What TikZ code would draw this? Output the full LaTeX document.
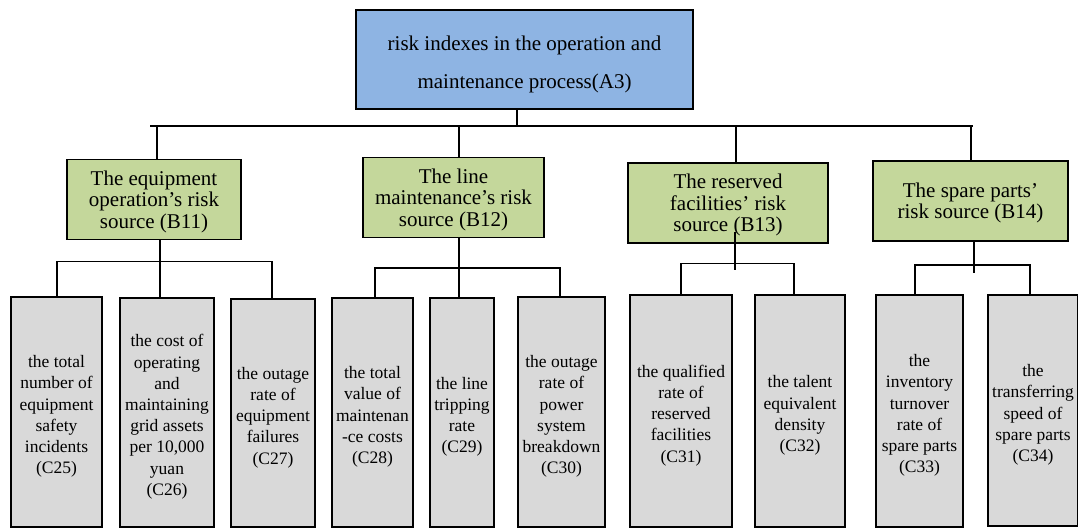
\documentclass[tikz,border=0pt]{standalone}
\usepackage{fontspec}
\setmainfont{Liberation Serif}
\definecolor{topblue}{HTML}{8EB4E3}
\definecolor{midgreen}{HTML}{C4D79B}
\definecolor{leafgray}{HTML}{D9D9D9}
\newcommand{\topstrut}{\rule{0pt}{24.5pt}}
\newcommand{\midstrut}{\rule{0pt}{18.5pt}}
\newcommand{\leafstrut}{\rule{0pt}{21pt}}
\begin{document}
\begin{tikzpicture}[x=1pt,y=-1pt,
  box/.style={draw=black,line width=1.4pt,align=center,inner sep=1pt,anchor=center},
  topbox/.style={box,fill=topblue,minimum width=337pt,minimum height=99pt,font=\fontsize{21}{38.5}\selectfont},
  midbox/.style={box,fill=midgreen,minimum height=80pt,font=\fontsize{21}{21.5}\selectfont},
  leafbox/.style={box,fill=leafgray,minimum height=230pt,font=\fontsize{17.5}{21.2}\selectfont},
  conn/.style={line width=1.4pt,line cap=rect}]
\useasboundingbox (0,0) rectangle (1078,529);
\begin{scope}
\clip (0,0) rectangle (1078,529);
% top node
\node[topbox] (A3) at (524.5,59.5) {\topstrut risk indexes in the operation and\\maintenance process(A3)};
% second level
\node[midbox,minimum width=174pt] (B11) at (154,199.5) {\midstrut The equipment\\operation’s risk\\source (B11)};
\node[midbox,minimum width=181pt] (B12) at (453.5,197.5) {\midstrut The line\\maintenance’s risk\\source (B12)};
\node[midbox,minimum width=200pt] (B13) at (728,203) {\midstrut The reserved\\facilities’ risk\\source (B13)};
\node[midbox,minimum width=195pt] (B14) at (970.5,201) {\midstrut The spare parts’\\risk source (B14)};
% leaves
\node[leafbox,minimum width=91pt] (C25) at (56.5,412) {\leafstrut the total\\number of\\equipment\\safety\\incidents\\(C25)};
\node[leafbox,minimum width=94pt,minimum height=229pt] (C26) at (167,412.5) {\leafstrut the cost of\\operating\\and\\maintaining\\grid assets\\per 10,000\\yuan\\(C26)};
\node[leafbox,minimum width=84pt,minimum height=228pt] (C27) at (273,413) {\leafstrut the outage\\rate of\\equipment\\failures\\(C27)};
\node[leafbox,minimum width=81pt,minimum height=229pt] (C28) at (372.5,412.5) {\leafstrut the total\\value of\\maintenan\\-ce costs\\(C28)};
\node[leafbox,minimum width=64pt,minimum height=229pt] (C29) at (462,412.5) {\leafstrut the line\\tripping\\rate\\(C29)};
\node[leafbox,minimum width=87pt] (C30) at (561.5,412) {\leafstrut the outage\\rate of\\power\\system\\breakdown\\(C30)};
\node[leafbox,minimum width=102pt,minimum height=232pt] (C31) at (681,411) {\leafstrut the qualified\\rate of\\reserved\\facilities\\(C31)};
\node[leafbox,minimum width=90pt,minimum height=232pt] (C32) at (800,411) {\leafstrut the talent\\equivalent\\density\\(C32)};
\node[leafbox,minimum width=87pt,minimum height=232pt] (C33) at (919.5,411) {\leafstrut the\\inventory\\turnover\\rate of\\spare parts\\(C33)};
\node[leafbox,minimum width=90pt,minimum height=231pt] (C34) at (1033,410.5) {\leafstrut the\\transferring\\speed of\\spare parts\\(C34)};
% top bus
\coordinate (tA) at (517,126);
\coordinate (tL) at (151,126);
\coordinate (tR) at (972,126);
\draw[conn] (A3.south -| tA) -- (tA);
\draw[conn] (tL) -- (tR);
\foreach \n/\x in {B11/157,B12/459,B13/736,B14/971}{
  \coordinate (t\n) at (\x,126);
  \draw[conn] (t\n) -- (t\n |- \n.north);
}
% B11 group
\coordinate (s11) at (160,261.5);
\coordinate (l11) at (57,261.5);
\coordinate (r11) at (272,261.5);
\draw[conn] (s11 |- B11.south) -- (s11 |- C26.north);
\draw[conn] (l11) -- (r11);
\draw[conn] (l11) -- (l11 |- C25.north);
\draw[conn] (r11) -- (r11 |- C27.north);
% B12 group
\coordinate (s12) at (459,268);
\coordinate (l12) at (375,268);
\coordinate (r12) at (560,268);
\draw[conn] (s12 |- B12.south) -- (s12 |- C29.north);
\draw[conn] (l12) -- (r12);
\draw[conn] (l12) -- (l12 |- C28.north);
\draw[conn] (r12) -- (r12 |- C30.north);
% B13 group
\coordinate (s13) at (735,269);
\coordinate (l13) at (681,263.5);
\coordinate (r13) at (794,263.5);
\coordinate (s13t) at (735,233);
\draw[conn] (s13t) -- (s13);
\draw[conn] (l13) -- (r13);
\draw[conn] (l13) -- (l13 |- C31.north);
\draw[conn] (r13) -- (r13 |- C32.north);
% B14 group
\coordinate (s14) at (974,272);
\coordinate (l14) at (915,265);
\coordinate (r14) at (1030,265);
\draw[conn] (s14 |- B14.south) -- (s14);
\draw[conn] (l14) -- (r14);
\draw[conn] (l14) -- (l14 |- C33.north);
\draw[conn] (r14) -- (r14 |- C34.north);
\end{scope}
\end{tikzpicture}
\end{document}
